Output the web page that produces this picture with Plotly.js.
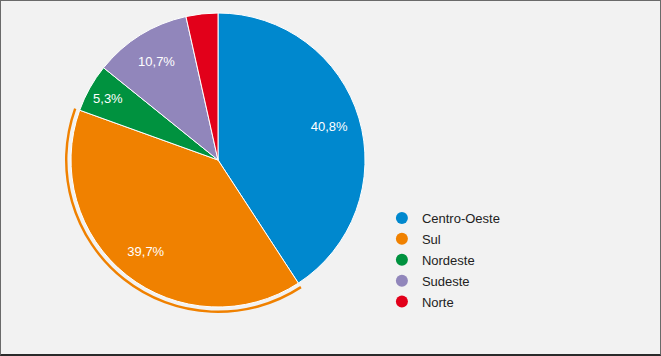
<!DOCTYPE html>
<html>
<head>
<meta charset="utf-8">
<script src="https://cdn.plot.ly/plotly-3.0.1.min.js"></script>
<style>
  html, body { margin: 0; padding: 0; background: #f2f2f2; }
  #wrap { width: 659px; height: 353px; border-top: 1px solid #6a6a6a; border-left: 1px solid #6a6a6a; border-right: 1px solid #6a6a6a; border-bottom: 2px solid #2a2a2a; }
  #chart { width: 659px; height: 353px; }
</style>
</head>
<body>
<div id="wrap"><div id="chart"></div></div>
<script>
const categories = ["Centro-Oeste", "Sul", "Nordeste", "Sudeste", "Norte"];
const values = [40.8, 39.7, 5.3, 10.7, 3.5];
const colors = ["#0088CE", "#F08100", "#00923F", "#9186BB", "#E2001A"];
const highlighted = "Sul";
const labelThreshold = 5;

const sliceText = values.map(v => v >= labelThreshold ? v.toFixed(1).replace('.', ',') + '%' : '');
const pieDomain = { x: [0.1062, 0.5524], y: [0.1331, 0.9660] };
const fontFam = 'Liberation Sans, Arial, sans-serif';

const pie = {
  type: 'pie',
  labels: categories,
  values: values,
  sort: false,
  direction: 'clockwise',
  rotation: 0,
  textinfo: 'none',
  marker: { colors: colors, line: { color: '#ffffff', width: 1 } },
  domain: pieDomain,
  showlegend: false,
  hoverinfo: 'none'
};

// transparent copy used only to place the percentage labels further out
const labelsPie = {
  type: 'pie',
  labels: categories,
  values: values,
  sort: false,
  direction: 'clockwise',
  rotation: 0,
  hole: 0.58,
  text: sliceText,
  textinfo: 'text',
  textposition: 'inside',
  insidetextorientation: 'horizontal',
  textfont: { family: fontFam, size: 13, color: '#ffffff' },
  marker: { colors: categories.map(() => 'rgba(0,0,0,0)'), line: { width: 0 } },
  domain: pieDomain,
  showlegend: false,
  hoverinfo: 'none'
};

const ring = {
  type: 'pie',
  labels: categories,
  values: values,
  sort: false,
  direction: 'clockwise',
  rotation: 0,
  hole: 0.984,
  textinfo: 'none',
  marker: { colors: categories.map((c, i) => c === highlighted ? colors[i] : 'rgba(0,0,0,0)'), line: { width: 0 } },
  domain: { x: [0.0971, 0.5615], y: [0.1161, 0.9830] },
  showlegend: false,
  hoverinfo: 'none'
};

const legendTraces = categories.map((c, i) => ({
  type: 'scatter',
  mode: 'markers',
  x: [null], y: [null],
  name: c,
  legendgroup: 'g' + i,
  marker: { color: colors[i], size: 12, symbol: 'circle' },
  showlegend: true,
  hoverinfo: 'none'
}));

const layout = {
  width: 659, height: 353,
  margin: { l: 0, r: 0, t: 0, b: 0 },
  paper_bgcolor: '#f2f2f2',
  plot_bgcolor: '#f2f2f2',
  xaxis: { visible: false },
  yaxis: { visible: false },
  showlegend: true,
  legend: {
    x: 0.578, xanchor: 'left',
    y: 0.4278, yanchor: 'top',
    bgcolor: 'rgba(0,0,0,0)',
    font: { family: fontFam, size: 13, color: '#222222' },
    traceorder: 'grouped',
    tracegroupgap: 1,
    itemclick: false
  }
};

Plotly.newPlot('chart', [pie, ring, labelsPie, ...legendTraces], layout, { staticPlot: true, displayModeBar: false });
</script>
</body>
</html>
